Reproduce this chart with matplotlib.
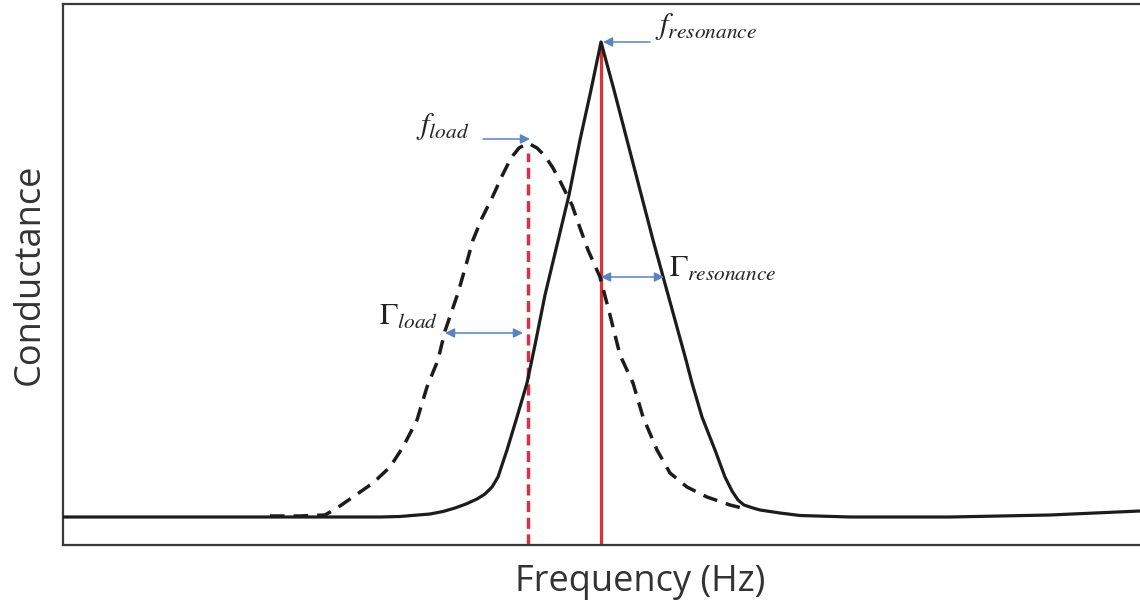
import matplotlib
matplotlib.use("Agg")
import matplotlib.pyplot as plt
import numpy as np
from matplotlib.patches import FancyArrowPatch

# frequency sweep (arbitrary units) and conductance response
res_freq = [0, 137, 237, 317, 337, 367, 380, 392, 403, 414, 422, 429, 435, 444,
            454, 464, 472, 482, 494, 506, 517, 528, 538, 551, 564, 577, 590,
            623, 629, 639, 652, 662, 669, 675, 681, 690, 697, 717, 737,
            787, 887, 987, 1077]
res_cond = [28, 28, 28, 28, 28.5, 31, 33.5, 37, 41, 46, 51, 58, 68, 95,
            128, 162, 200, 250, 300, 350, 405, 455, 503, 455, 405, 355, 305,
            185, 162, 128, 95, 68, 54, 45, 40, 37, 35, 32, 29.5,
            28, 28, 30, 34]

load_freq = [207, 237, 262, 274, 290, 310, 327, 340, 354, 364, 375, 382, 395, 403,
             410, 419, 429, 439, 448, 456, 465, 474, 482, 490, 498, 509, 517, 525,
             537, 547, 557, 570, 580, 594, 607, 624, 644, 667, 679]
load_cond = [29, 29, 30, 37, 48, 62, 78, 98, 125, 158, 185, 214, 252, 280,
             305, 327, 347, 369, 387, 397, 402, 397, 389, 377, 362, 340, 317, 295,
             268, 230, 190, 162, 128, 95, 72, 58, 48, 40, 37]

f_res, g_res = 538, 503
f_load, g_load = 465, 402
gamma_res = (538, 601, 268)
gamma_load = (382, 460, 212)

plt.rcParams['font.family'] = ['Open Sans', 'DejaVu Sans']
plt.rcParams['mathtext.fontset'] = 'stix'

fig = plt.figure(figsize=(11.4, 6.04), dpi=100)
ax = fig.add_axes([63 / 1140, 59 / 604, 1154 / 1140, 541 / 604])
ax.set_xlim(0, 1154)
ax.set_ylim(0, 541)

ink = '#1c1c1c'
ax.plot(res_freq, res_cond, color=ink, lw=2.3, solid_joinstyle='round', zorder=3)
ax.plot(load_freq, load_cond, color=ink, lw=2.5, ls=(0, (4.2, 2.6)),
        dash_joinstyle='round', zorder=3)

ax.vlines(f_res, 0, g_res, color='#e0312e', lw=2.3, zorder=2)
ax.vlines(f_load, 0, g_load - 10, color='#d8324a', lw=2.5,
          linestyles=[(0, (3.2, 1.6))], zorder=2)

blue = '#5a84bd'


def arrow(x0, y0, x1, y1, style='-|>'):
    ax.add_patch(FancyArrowPatch((x0, y0), (x1, y1), arrowstyle=style,
                                 mutation_scale=14, color=blue, lw=1.1,
                                 shrinkA=0, shrinkB=0, zorder=4))


arrow(f_res + 49, g_res, f_res + 2, g_res)
arrow(f_load - 45, g_load + 4, f_load + 2, g_load + 4)
arrow(gamma_res[0], gamma_res[2], gamma_res[1], gamma_res[2], '<|-|>')
arrow(gamma_load[0], gamma_load[2], gamma_load[1], gamma_load[2], '<|-|>')

lab = dict(fontsize=22, color='#222222', va='center')
ax.text(f_res + 54, g_res + 15, r'$f_{resonance}$', **lab)
ax.text(f_load - 112, g_load + 16, r'$f_{load}$', **lab)
ax.text(gamma_res[1] + 5, gamma_res[2] + 8, r'$\Gamma_{resonance}$', **lab)
ax.text(gamma_load[0] - 66, gamma_load[2] + 16, r'$\Gamma_{load}$', **lab)

ax.set_xticks([])
ax.set_yticks([])
ax.spines['right'].set_visible(False)
for side in ('left', 'top', 'bottom'):
    ax.spines[side].set_linewidth(1.6)
    ax.spines[side].set_color('#3a3a3a')

ax.set_xlabel('Frequency (Hz)', fontsize=26, color='#333333', labelpad=14)
ax.set_ylabel('Conductance', fontsize=26, color='#333333', labelpad=11)

fig.savefig('out.png', dpi=100)
